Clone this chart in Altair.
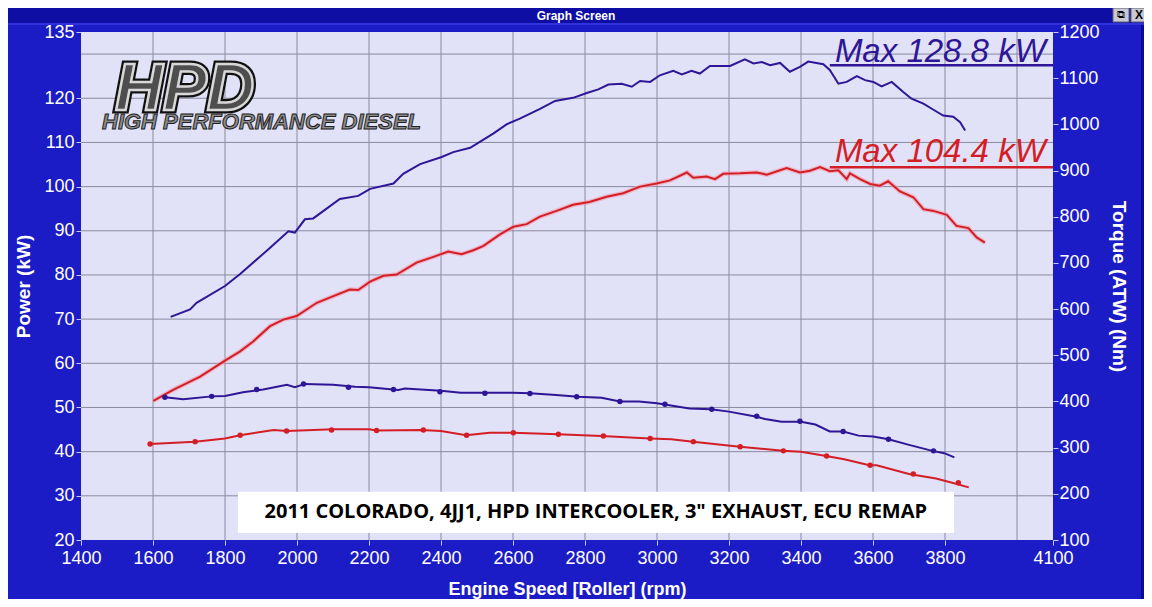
import altair as alt
import pandas as pd

# ---------------- data ----------------
x_tick_values = [1400, 1600, 1800, 2000, 2200, 2400, 2600, 2800, 3000, 3200, 3400, 3600, 3800, 4100]
x_grid_values = [1600, 1800, 2000, 2200, 2400, 2600, 2800, 3000, 3200, 3400, 3600, 3800, 4000]
kw_tick_values = [20, 30, 40, 50, 60, 70, 80, 90, 100, 110, 120, 135]
kw_grid_values = [30, 40, 50, 60, 70, 80, 90, 100, 110, 120, 130]
nm_tick_values = [100, 200, 300, 400, 500, 600, 700, 800, 900, 1000, 1100, 1200]

blue_power_rpm = [1649, 1703, 1721, 1800, 1842, 1916, 1976, 1994, 2022, 2045, 2119, 2170, 2203, 2268,
                  2295, 2342, 2402, 2434, 2481, 2545, 2582, 2619, 2675, 2717, 2767, 2805, 2837, 2865,
                  2902, 2930, 2953, 2981, 3008, 3045, 3069, 3096, 3119, 3147, 3203, 3244, 3268, 3291,
                  3314, 3342, 3369, 3397, 3420, 3462, 3480, 3504, 3527, 3555, 3578, 3601, 3624, 3652,
                  3684, 3707, 3740, 3768, 3795, 3823, 3842, 3856]
blue_power_kw = [70.5, 72.2, 73.7, 77.5, 80.2, 85.5, 89.9, 89.6, 92.6, 92.8, 97.2, 97.9, 99.5, 100.7,
                 102.9, 105.1, 106.7, 107.8, 108.8, 112.0, 114.1, 115.4, 117.6, 119.4, 120.1, 121.2, 122.0, 123.1,
                 123.3, 122.6, 123.9, 123.7, 125.2, 126.2, 125.4, 126.2, 125.6, 127.3, 127.3, 128.8, 127.9, 128.2,
                 127.5, 128.0, 126.0, 127.1, 128.3, 127.7, 126.4, 123.3, 123.7, 125.0, 124.1, 123.7, 122.7, 123.7,
                 121.4, 119.9, 118.8, 117.4, 116.1, 115.8, 114.6, 112.7]

red_power_rpm = [1601, 1656, 1731, 1800, 1842, 1879, 1925, 1962, 1999, 2055, 2101, 2147, 2170, 2203,
                 2240, 2277, 2332, 2379, 2420, 2457, 2490, 2518, 2564, 2601, 2638, 2675, 2721, 2767,
                 2812, 2860, 2906, 2953, 2999, 3036, 3083, 3101, 3138, 3161, 3184, 3231, 3277, 3305,
                 3360, 3397, 3425, 3453, 3480, 3504, 3527, 3536, 3564, 3592, 3619, 3642, 3675, 3712,
                 3740, 3768, 3805, 3832, 3865, 3888, 3911]
red_power_kw = [51.5, 54.0, 57.0, 60.6, 62.7, 65.0, 68.4, 69.9, 70.7, 73.7, 75.2, 76.7, 76.6, 78.5,
                79.8, 80.1, 82.8, 84.1, 85.3, 84.7, 85.6, 86.6, 89.2, 90.9, 91.5, 93.2, 94.5, 95.9,
                96.5, 97.7, 98.5, 100.0, 100.7, 101.4, 103.2, 102.0, 102.3, 101.7, 102.9, 103.0, 103.2, 102.7,
                104.2, 103.2, 103.6, 104.4, 103.5, 103.7, 101.7, 103.0, 101.7, 100.6, 100.2, 101.2, 98.9, 97.6,
                94.9, 94.5, 93.6, 91.1, 90.6, 88.5, 87.3]

blue_torque_rpm = [1633, 1684, 1763, 1800, 1850, 1906, 1972, 1994, 2022, 2100, 2161, 2200, 2281, 2300,
                   2400, 2455, 2522, 2600, 2647, 2720, 2781, 2846, 2897, 2950, 3000, 3090, 3150, 3200,
                   3277, 3300, 3346, 3400, 3440, 3480, 3517, 3560, 3600, 3643, 3700, 3765, 3798, 3826]
blue_torque_nm = [409, 405, 411, 412, 420, 426, 436, 431, 438, 436, 432, 431, 425, 428,
                  423, 419, 419, 419, 418, 414, 410, 408, 400, 400, 396, 385, 383, 378,
                  367, 362, 356, 356, 350, 335, 335, 326, 324, 318, 306, 293, 288, 279]

red_torque_rpm = [1592, 1717, 1800, 1842, 1935, 1972, 2100, 2200, 2221, 2345, 2400, 2470, 2535, 2600,
                  2725, 2846, 2980, 3040, 3100, 3230, 3350, 3400, 3470, 3520, 3590, 3610, 3700, 3775,
                  3820, 3866]
red_torque_nm = [308, 313, 320, 327, 338, 336, 340, 340, 337, 338, 336, 327, 332, 332,
                 329, 325, 320, 318, 313, 302, 293, 291, 282, 275, 262, 262, 243, 233,
                 224, 214]

blue_marker_rpm = [1633, 1763, 1888, 2018, 2143, 2268, 2397, 2522, 2647, 2777, 2897, 3022, 3152, 3277,
                   3397, 3517, 3643, 3768]
blue_marker_nm = [409, 411, 426, 438, 431, 426, 421, 418, 417, 410, 400, 394, 383, 368,
                  357, 335, 318, 293]
red_marker_rpm = [1592, 1717, 1842, 1971, 2096, 2221, 2351, 2471, 2601, 2726, 2851, 2981, 3101, 3231,
                  3351, 3471, 3592, 3712, 3837]
red_marker_nm = [308, 313, 327, 336, 338, 337, 338, 327, 332, 329, 325, 320, 313, 302,
                 293, 282, 262, 243, 224]

max_labels = ["Max 128.8 kW", "Max 104.4 kW"]
max_series = ["blue", "red"]
max_text_rpm = [4080, 4080]
max_text_kw = [128.2, 105.5]
max_line_rpm = [3480, 3480]
max_line_rpm2 = [4100, 4100]
max_line_kw = [127.5, 104.4]

note_text = ['2011 COLORADO, 4JJ1, HPD INTERCOOLER, 3" EXHAUST, ECU REMAP']
note_box_rpm = [1836, 3825]
note_box_kw = [21.6, 30.9]
note_center = [2830, 26.3]

# ---------------- styles ----------------
BG = "#1C1CC6"
PLOT_BG = "#E1E1F8"
GRID = "#8A8A9E"
BLUE = "#2E1696"
RED = "#D41E26"
FONT = "Liberation Sans"

power_df = pd.concat([
    pd.DataFrame({"rpm": blue_power_rpm, "kw": blue_power_kw, "series": "blue"}),
    pd.DataFrame({"rpm": red_power_rpm, "kw": red_power_kw, "series": "red"}),
])
torque_df = pd.concat([
    pd.DataFrame({"rpm": blue_torque_rpm, "nm": blue_torque_nm, "series": "blue"}),
    pd.DataFrame({"rpm": red_torque_rpm, "nm": red_torque_nm, "series": "red"}),
])
marker_df = pd.concat([
    pd.DataFrame({"rpm": blue_marker_rpm, "nm": blue_marker_nm, "series": "blue"}),
    pd.DataFrame({"rpm": red_marker_rpm, "nm": red_marker_nm, "series": "red"}),
])
max_df = pd.DataFrame({"label": max_labels, "series": max_series, "rpm": max_text_rpm,
                       "kw": max_text_kw, "lr": max_line_rpm, "lr2": max_line_rpm2, "lk": max_line_kw})
note_df = pd.DataFrame({"text": note_text, "r1": [note_box_rpm[0]], "r2": [note_box_rpm[1]],
                        "k1": [note_box_kw[0]], "k2": [note_box_kw[1]],
                        "rc": [note_center[0]], "kc": [note_center[1]]})
vgrid_df = pd.DataFrame({"rpm": x_grid_values})
hgrid_df = pd.DataFrame({"kw": kw_grid_values})

x_scale = alt.Scale(domain=[1400, 4100], nice=False, zero=False)
kw_scale = alt.Scale(domain=[20, 135], nice=False, zero=False)
nm_scale = alt.Scale(domain=[100, 1200], nice=False, zero=False)
color_scale = alt.Scale(domain=["blue", "red"], range=[BLUE, RED])

x_axis = alt.Axis(values=x_tick_values, format="d", title="Engine Speed [Roller] (rpm)", grid=False,
                  domain=False, labelFontSize=18, labelColor="white", labelFont=FONT, labelFlush=False,
                  labelPadding=4, tickColor="#C8C8F0", tickSize=5,
                  titleFont=FONT, titleFontSize=18, titleFontWeight="bold", titleColor="white",
                  titlePadding=13)
kw_axis = alt.Axis(values=kw_tick_values, format="d", title="Power (kW)", grid=False, domain=False,
                   orient="left", labelFontSize=18, labelColor="white", labelFont=FONT, labelFlush=False,
                   labelOverlap=False, labelPadding=2, tickColor="#C8C8F0", tickSize=5,
                   titleFont=FONT, titleFontSize=19, titleFontWeight="bold", titleColor="white",
                   titlePadding=10)
nm_axis = alt.Axis(values=nm_tick_values, format="d", title="Torque (ATW) (Nm)", grid=False, domain=False,
                   orient="right", labelFontSize=18, labelColor="white", labelFont=FONT, labelFlush=False,
                   labelOverlap=False, labelPadding=1, tickColor="#C8C8F0", tickSize=5,
                   titleFont=FONT, titleFontSize=19, titleFontWeight="bold", titleColor="white",
                   titlePadding=9, titleAngle=90)


def X(field="rpm"):
    return alt.X(f"{field}:Q", scale=x_scale, axis=x_axis)


def YK(field="kw"):
    return alt.Y(f"{field}:Q", scale=kw_scale, axis=kw_axis)


one = pd.DataFrame({"a": [0]})

vgrid = alt.Chart(vgrid_df).mark_rule(color=GRID, strokeWidth=1).encode(x=X())
hgrid = alt.Chart(hgrid_df).mark_rule(color=GRID, strokeWidth=1).encode(y=YK())

# HPD logo approximation (text)
logo_outline = alt.Chart(one).mark_text(
    text="HPD", font=FONT, fontSize=66, fontWeight="bold", fontStyle="italic", align="left",
    baseline="alphabetic", stroke="#111111", strokeWidth=7, fill="#111111"
).encode(x=alt.value(34), y=alt.value(78))
logo_fill = alt.Chart(one).mark_text(
    text="HPD", font=FONT, fontSize=66, fontWeight="bold", fontStyle="italic", align="left",
    baseline="alphabetic", stroke="#D8D8D8", strokeWidth=2.5, fill="#4E4E4E"
).encode(x=alt.value(34), y=alt.value(78))
logo_sub = alt.Chart(one).mark_text(
    text="HIGH PERFORMANCE DIESEL", font=FONT, fontSize=22, fontWeight="bold", fontStyle="italic",
    align="left", baseline="alphabetic", fill="#8C8C8C", stroke="#222222", strokeWidth=1
).encode(x=alt.value(21), y=alt.value(97))

red_glow = alt.Chart(power_df[power_df.series == "red"]).mark_line(
    color="#F39AA8", strokeWidth=4.5, opacity=0.6
).encode(x=X(), y=YK())
power_lines = alt.Chart(power_df).mark_line(strokeWidth=2).encode(
    x=X(), y=YK(), color=alt.Color("series:N", scale=color_scale, legend=None), detail="series:N")

max_rules = alt.Chart(max_df).mark_rule(strokeWidth=2.5).encode(
    x=X("lr"), x2="lr2:Q", y=YK("lk"),
    color=alt.Color("series:N", scale=color_scale, legend=None))
max_text = alt.Chart(max_df).mark_text(
    font=FONT, fontSize=33, fontStyle="italic", align="right", baseline="alphabetic"
).encode(x=X(), y=YK(), text="label:N",
         color=alt.Color("series:N", scale=alt.Scale(domain=["blue", "red"], range=["#3214A8", "#E0141C"]),
                         legend=None))

note_box = alt.Chart(note_df).mark_rect(color="white").encode(x=X("r1"), x2="r2:Q", y=YK("k1"), y2="k2:Q")
note_txt = alt.Chart(note_df).mark_text(
    font="Open Sans", fontSize=20, fontWeight="bold", color="black", align="center", baseline="middle"
).encode(x=X("rc"), y=YK("kc"), text="text:N")

# window title bar
title_bar = alt.Chart(one).mark_rect(color="#0E0EA4").encode(
    x=alt.value(-73), x2=alt.value(1063), y=alt.value(-24), y2=alt.value(-9))
title_line = alt.Chart(one).mark_rule(color="#3A3AE0", strokeWidth=1.5).encode(
    x=alt.value(-73), x2=alt.value(1063), y=alt.value(-8))
title_txt = alt.Chart(one).mark_text(
    text="Graph Screen", font=FONT, fontSize=12, fontWeight="bold", color="white",
    align="center", baseline="middle").encode(x=alt.value(495), y=alt.value(-16))
btn1 = alt.Chart(one).mark_rect(color="#C8C8D4", stroke="#606070").encode(
    x=alt.value(1032), x2=alt.value(1048), y=alt.value(-24), y2=alt.value(-10))
btn2 = alt.Chart(one).mark_rect(color="#C8C8D4", stroke="#606070").encode(
    x=alt.value(1050), x2=alt.value(1066), y=alt.value(-24), y2=alt.value(-10))
btn1_txt = alt.Chart(one).mark_text(
    text="⧉", font="DejaVu Sans", fontSize=11, color="black", align="center",
    baseline="middle").encode(x=alt.value(1040), y=alt.value(-17))
btn2_txt = alt.Chart(one).mark_text(
    text="X", font=FONT, fontSize=12, fontWeight="bold", color="black", align="center",
    baseline="middle").encode(x=alt.value(1058), y=alt.value(-17))
right_edge = alt.Chart(one).mark_rect(color="#0A0A96").encode(
    x=alt.value(1060), x2=alt.value(1070), y=alt.value(-8), y2=alt.value(580))

left = alt.layer(vgrid, hgrid, logo_outline, logo_fill, logo_sub, red_glow, power_lines,
                 max_rules, max_text, note_box, note_txt, right_edge,
                 title_bar, title_line, title_txt, btn1, btn2, btn1_txt, btn2_txt)

torque_lines = alt.Chart(torque_df).mark_line(strokeWidth=2).encode(
    x=X(), y=alt.Y("nm:Q", scale=nm_scale, axis=nm_axis),
    color=alt.Color("series:N", scale=color_scale, legend=None), detail="series:N")
torque_pts = alt.Chart(marker_df).mark_point(filled=True, size=30, opacity=1).encode(
    x=X(), y=alt.Y("nm:Q", scale=nm_scale, axis=nm_axis),
    color=alt.Color("series:N", scale=color_scale, legend=None))
right = alt.layer(torque_lines, torque_pts)

chart = alt.layer(left, right).resolve_scale(y="independent").properties(
    width=972, height=508,
    padding={"left": 73, "top": 24, "right": 91, "bottom": 59},
    autosize=alt.AutoSizeParams(type="none"),
    background=BG,
).configure_view(fill=PLOT_BG, stroke=None)

chart.save("out.html", embed_options={"renderer": "svg", "actions": False})
